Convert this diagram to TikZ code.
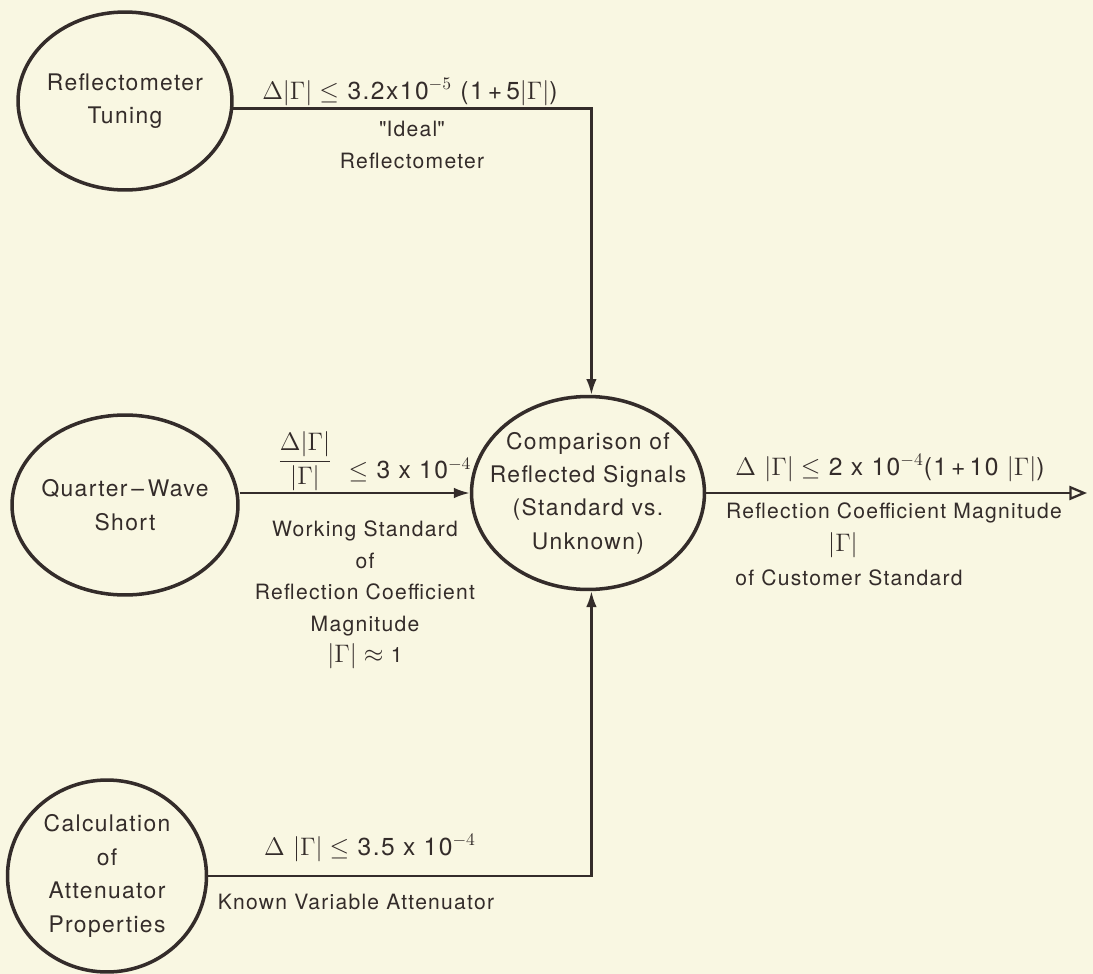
\documentclass[tikz,border=0pt]{standalone}
\usepackage{fontspec}
\setmainfont{TeX Gyre Heros}[LetterSpace=6]
\usetikzlibrary{shapes.geometric,arrows.meta}

\definecolor{ink}{RGB}{52,44,42}
\definecolor{paper}{RGB}{249,247,226}

\begin{document}
\begin{tikzpicture}[x=0.02cm,y=-0.02cm,
    blob/.style={ellipse,draw=ink,line width=2pt,align=center,inner xsep=-14pt,inner ysep=0pt,
        text=ink,font=\fontsize{13}{19}\selectfont},
    wire/.style={draw=ink,line width=1.3pt},
    lbl/.style={text=ink,align=center,inner sep=0pt,font=\fontsize{12}{18}\selectfont},
    eqn/.style={text=ink,inner sep=0pt,font=\fontsize{14}{16}\selectfont}]
    % Fond
    \fill[paper] (0,0) rectangle (1093,974);
    \useasboundingbox (0,0) rectangle (1093,974);
    % Cercles
    \node[blob,minimum width=4.28cm,minimum height=3.56cm] (tune) at (125,101) {Reflectometer\\Tuning};
    \node[blob,minimum width=4.52cm,minimum height=3.6cm] (qws) at (125,505) {Quarter\,--\,Wave\\Short};
    \node[blob,minimum width=3.98cm,minimum height=3.84cm] (calc) at (107,876) {Calculation\\of\\Attenuator\\Properties};
    \node[blob,minimum width=4.66cm,minimum height=3.86cm,inner xsep=-34pt] (comp) at (588,493) {Comparison of\\Reflected Signals\\(Standard vs.\\Unknown)};
    \coordinate (out) at (1087,493);
    % Liaisons
    \draw[wire,-{Latex[length=9pt,width=6pt]}] (tune.-4) -| (comp.88);
    \draw[wire,-{Latex[length=9pt,width=6pt]}] (qws.east |- comp.west) -- (comp.west);
    \draw[wire,-{Latex[length=9pt,width=6pt]}] (calc.east) -| (comp.-88);
    \draw[wire,-{Triangle[open,length=10pt,width=8pt]}] (comp.east) -- (out);
    % Textes du haut
    \node[eqn] (tol1) at (410,92) {$\Delta|\Gamma|\leq$ 3.2x10$^{-5}$ (1\,+\,5$|\Gamma|$)};
    \node[lbl] (ideal) at (412,145) {\textquotedbl Ideal\textquotedbl\\Reflectometer};
    % Textes du milieu
    \node[eqn] (frac) at (305,461) {$\displaystyle\frac{\Delta|\Gamma|}{|\Gamma|}$};
    \node[eqn] (tol2) at (410,470) {$\leq$ 3 x 10$^{-4}$};
    \node[lbl] (work) at (365,595) {Working Standard\\of\\Reflection Coefficient\\Magnitude\\{\fontsize{15}{18}\selectfont$|\Gamma|\approx$} 1};
    % Textes de droite
    \node[eqn] (tol3) at (890,468) {$\Delta\ |\Gamma|\leq$ 2 x 10$^{-4}$(1\,+\,10 $|\Gamma|$)};
    \node[lbl] (refl) at (894,513) {Reflection Coefficient Magnitude};
    \node[eqn,font=\fontsize{15}{18}\selectfont] (gam) at (843,545) {$|\Gamma|$};
    \node[lbl] (cust) at (849,578) {of Customer Standard};
    % Textes du bas
    \node[eqn] (tol4) at (370,848) {$\Delta\ |\Gamma|\leq$ 3.5 x 10$^{-4}$};
    \node[lbl] (atten) at (356,902) {Known Variable Attenuator};
\end{tikzpicture}
\end{document}
